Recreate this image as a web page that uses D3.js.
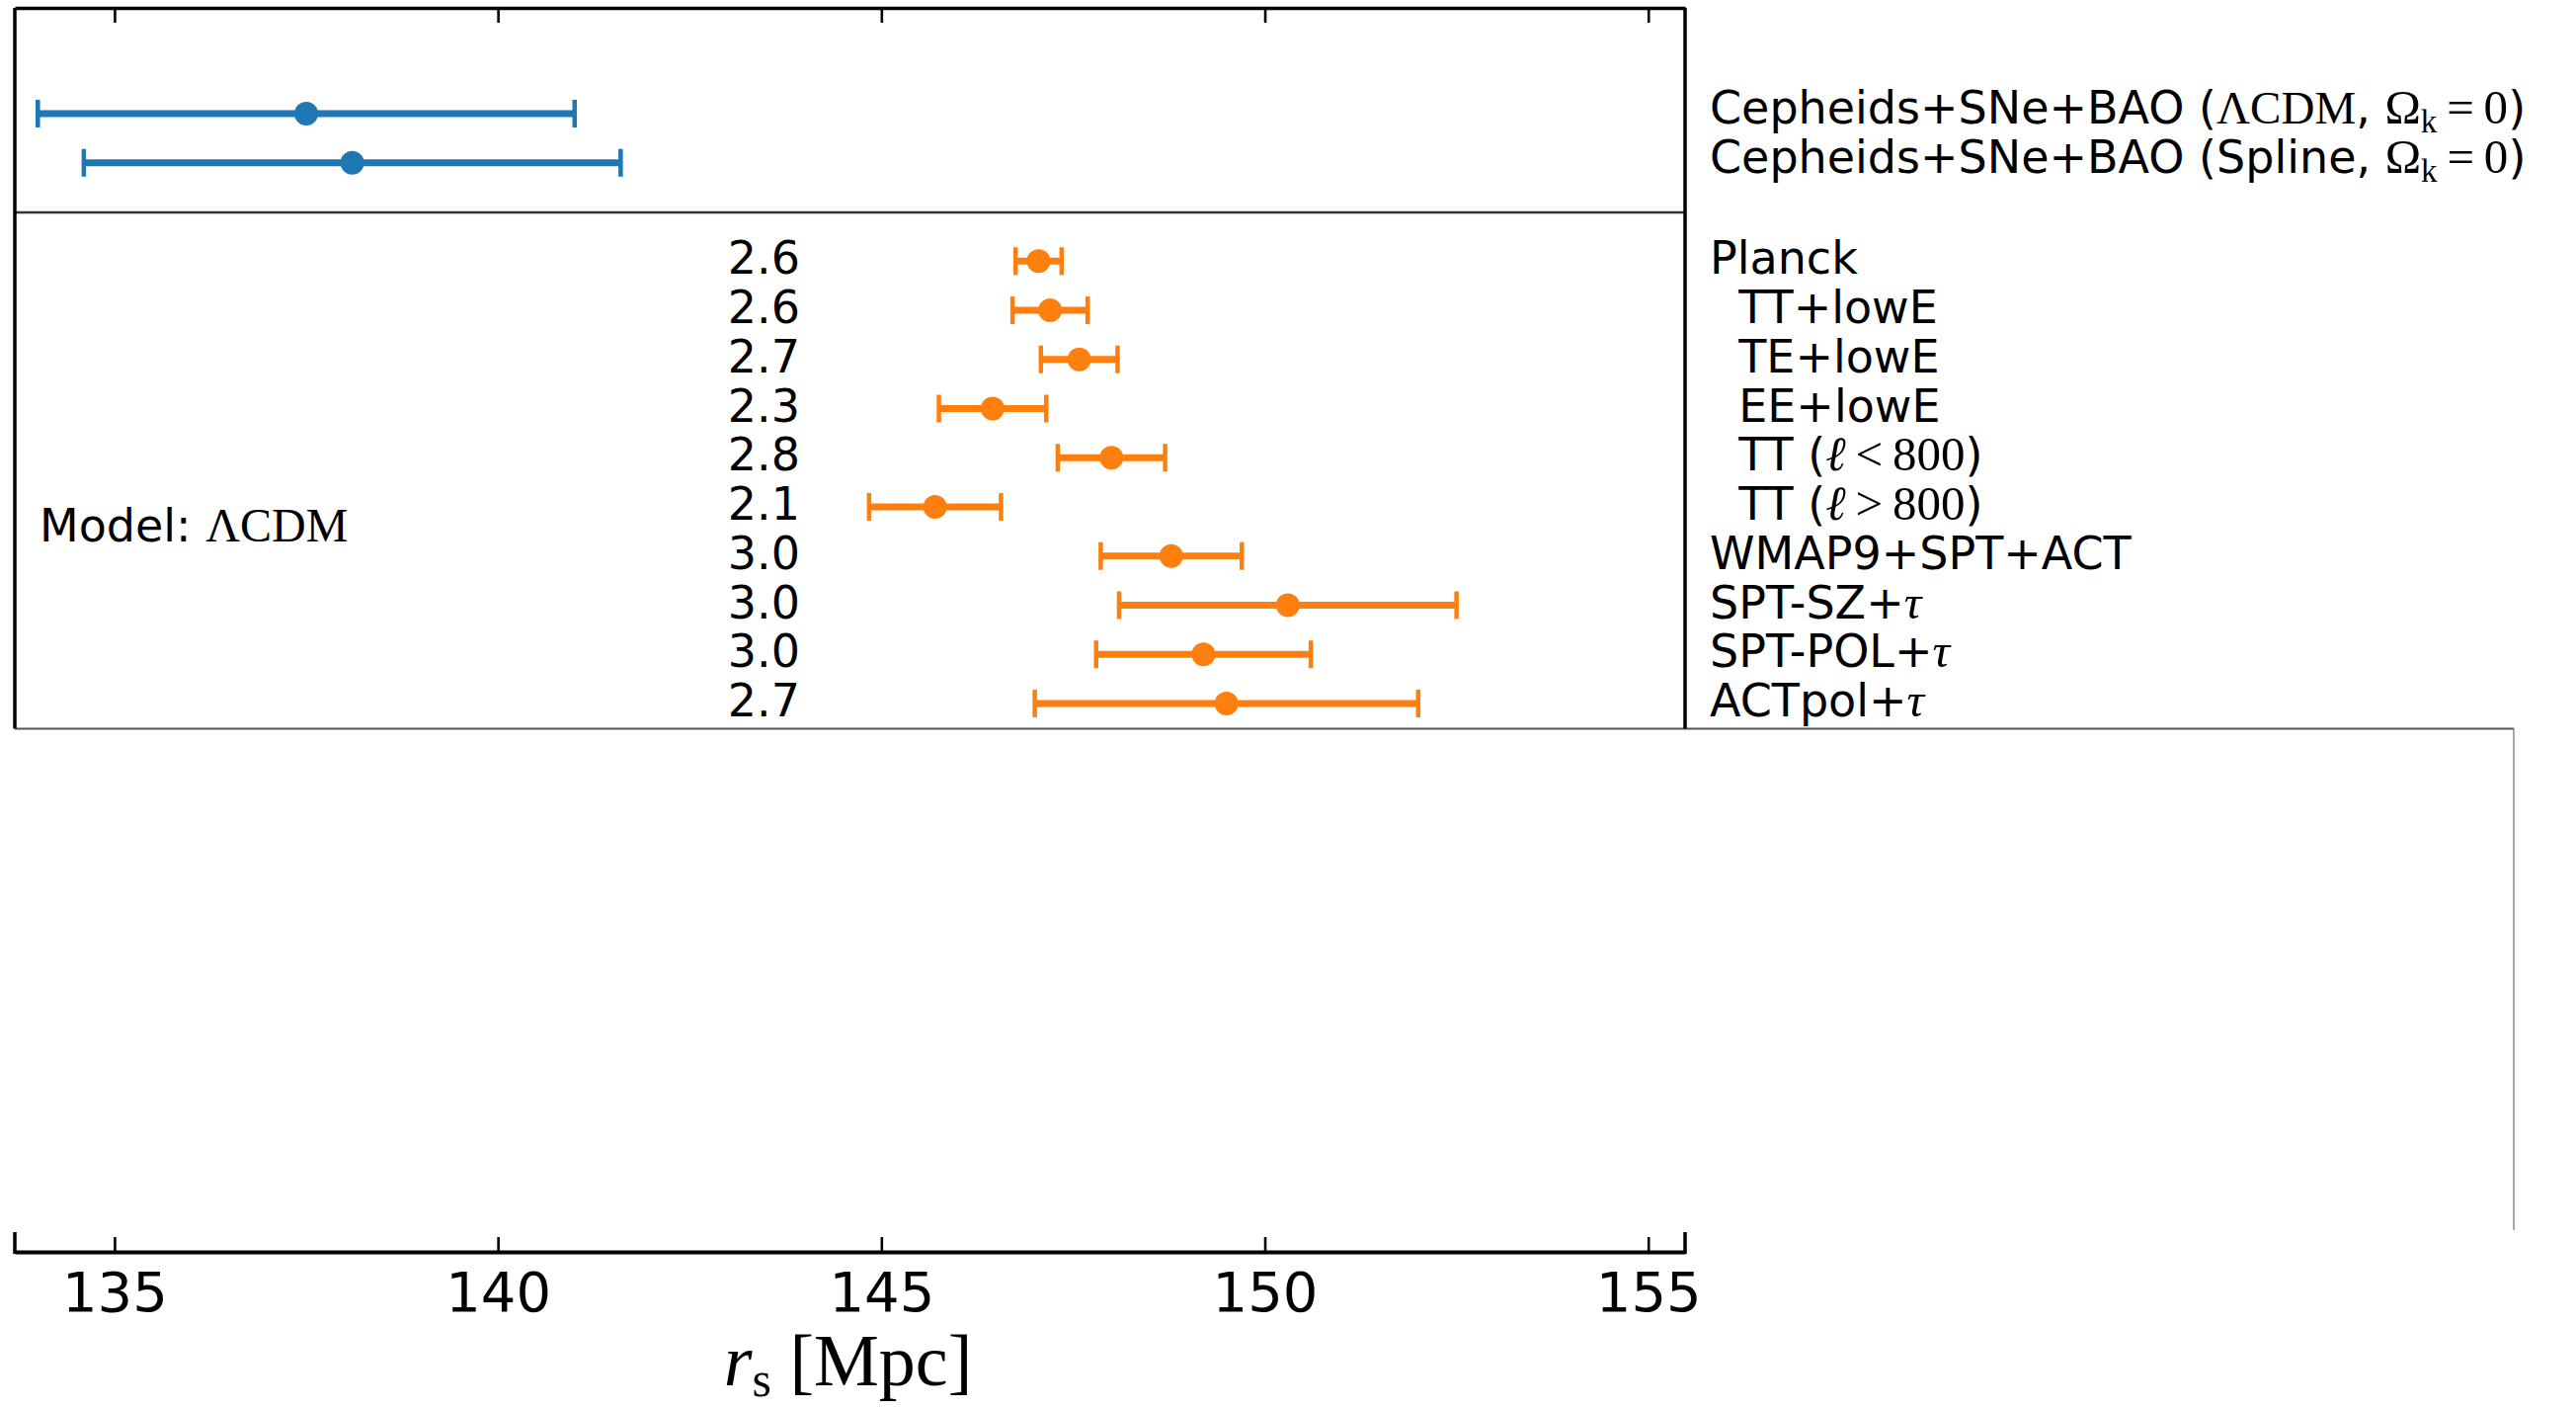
<!DOCTYPE html>
<html>
<head>
<meta charset="utf-8">
<script src="https://cdn.jsdelivr.net/npm/d3@7"></script>
<style>
  html, body { margin: 0; padding: 0; background: #fff; }
  svg { display: block; }
  text { font-family: "DejaVu Sans", sans-serif; }
  .serif { font-family: "Liberation Serif", "DejaVu Serif", serif; }
</style>
</head>
<body>
<svg id="chart" width="2608" height="1426"></svg>
<script>
// ---------------- data ----------------
const xTicks = [135, 140, 145, 150, 155];

// local distance-ladder measurements (blue)
const localIds = ["lcdm", "spline"];
const localModels = ["ΛCDM", "Spline"];
const localCenters = [137.5, 138.1];
const localErrors = [3.5, 3.5];

// CMB measurements (orange)
const cmbLabels = ["Planck", "TT+lowE", "TE+lowE", "EE+lowE", "TT<800", "TT>800",
                   "WMAP9+SPT+ACT", "SPT-SZ+τ", "SPT-POL+τ", "ACTpol+τ"];
const cmbIndent = [false, true, true, true, true, true, false, false, false, false];
const cmbCenters = [147.05, 147.2, 147.58, 146.45, 148.0, 145.7, 148.78, 150.3, 149.2, 149.5];
const cmbErrors  = [0.3, 0.49, 0.5, 0.7, 0.7, 0.86, 0.92, 2.2, 1.4, 2.5];
const cmbPercent = ["2.6", "2.6", "2.7", "2.3", "2.8", "2.1", "3.0", "3.0", "3.0", "2.7"];

// ---------------- layout ----------------
const svg = d3.select("#chart");
const left = 15, right = 1706;
const topY = 8, dividerY = 215, midBottom = 737.5, axisY = 1267;
const BLUE = "#1f77b4", ORANGE = "#ff7f0e";
const FS = 46, SFS = 47;

const x = d3.scaleLinear().domain([133.7, 155.48]).range([left, right]);
// row index scale: local rows 0,1 ; CMB rows 3..12
const y = d3.scaleLinear().domain([0, 12]).range([115, 712]);

// ---------------- frames ----------------
svg.append("line").attr("x1", left).attr("x2", 2545).attr("y1", midBottom).attr("y2", midBottom)
  .attr("stroke", "#555").attr("stroke-width", 2);
svg.append("line").attr("x1", 2545).attr("x2", 2545).attr("y1", midBottom).attr("y2", 1245)
  .attr("stroke", "#777").attr("stroke-width", 1.3);

svg.append("line").attr("x1", left).attr("x2", right).attr("y1", dividerY).attr("y2", dividerY)
  .attr("stroke", "#333").attr("stroke-width", 2.5);
svg.append("line").attr("x1", left).attr("x2", left).attr("y1", topY).attr("y2", midBottom)
  .attr("stroke", "#000").attr("stroke-width", 3.5);
svg.append("line").attr("x1", right).attr("x2", right).attr("y1", topY).attr("y2", midBottom)
  .attr("stroke", "#000").attr("stroke-width", 3.5);

// top axis (ticks inward, no labels)
const topAxis = svg.append("g").attr("transform", `translate(0,${topY})`)
  .call(d3.axisTop(x).tickValues(xTicks).tickSizeInner(-15).tickSizeOuter(0).tickFormat(""));
topAxis.select(".domain").attr("stroke-width", 3.5).attr("stroke", "#000");
topAxis.selectAll(".tick line").attr("stroke-width", 2.6).attr("stroke", "#000");

// bottom axis
const botAxis = svg.append("g").attr("transform", `translate(0,${axisY})`)
  .call(d3.axisBottom(x).tickValues(xTicks).tickSizeInner(-15).tickSizeOuter(0).tickPadding(20)
        .tickFormat(d3.format("d")));
botAxis.select(".domain").attr("stroke-width", 4).attr("stroke", "#000");
botAxis.selectAll(".tick line").attr("stroke-width", 2.6).attr("stroke", "#000");
botAxis.selectAll(".tick text").attr("font-size", 56).attr("font-family", "DejaVu Sans").attr("fill", "#000");
[left, right].forEach(px => {
  svg.append("line").attr("x1", px).attr("x2", px).attr("y1", 1247).attr("y2", axisY + 2)
    .attr("stroke", "#000").attr("stroke-width", 3.5);
});

// axis title  r_s [Mpc]
const xt = svg.append("text").attr("class", "serif").attr("x", (left + right) / 2 - 2).attr("y", 1402)
  .attr("text-anchor", "middle").attr("font-size", 74).attr("fill", "#000");
xt.append("tspan").attr("font-style", "italic").text("r");
xt.append("tspan").attr("font-size", 50).attr("dy", 11).text("s");
xt.append("tspan").attr("dy", -11).text(" [Mpc]");

// ---------------- error bars ----------------
function errorBars(centers, errors, rowIdx, color) {
  const g = svg.append("g");
  const data = centers.map((c, i) => ({ c, e: errors[i], r: rowIdx[i] }));
  g.selectAll("line.bar").data(data).join("line").attr("class", "bar")
    .attr("x1", d => x(d.c - d.e)).attr("x2", d => x(d.c + d.e))
    .attr("y1", d => y(d.r)).attr("y2", d => y(d.r))
    .attr("stroke", color).attr("stroke-width", 7);
  ["lo", "hi"].forEach(side => {
    g.selectAll("line.cap" + side).data(data).join("line").attr("class", "cap" + side)
      .attr("x1", d => x(side === "lo" ? d.c - d.e : d.c + d.e))
      .attr("x2", d => x(side === "lo" ? d.c - d.e : d.c + d.e))
      .attr("y1", d => y(d.r) - 14).attr("y2", d => y(d.r) + 14)
      .attr("stroke", color).attr("stroke-width", 4.5);
  });
  g.selectAll("circle").data(data).join("circle")
    .attr("cx", d => x(d.c)).attr("cy", d => y(d.r)).attr("r", 12).attr("fill", color);
}
errorBars(localCenters, localErrors, [0, 1], BLUE);
errorBars(cmbCenters, cmbErrors, cmbCenters.map((_, i) => i + 3), ORANGE);

// ---------------- labels ----------------
const labelX = 1731, dyTop = 10, dyText = 13;

localModels.forEach((m, i) => {
  const t = svg.append("text").attr("x", labelX).attr("y", y(i) + dyTop)
    .attr("font-size", FS).attr("fill", "#000").attr("id", "local-" + localIds[i]);
  t.append("tspan").text("Cepheids+SNe+BAO (");
  if (m === "ΛCDM") {
    t.append("tspan").attr("class", "serif").attr("font-size", SFS).text("ΛCDM");
  } else {
    t.append("tspan").text(m);
  }
  t.append("tspan").text(", ");
  t.append("tspan").attr("class", "serif").attr("font-size", SFS + 2).text("Ω");
  t.append("tspan").attr("class", "serif").attr("font-size", 33).attr("dy", 9).text("k");
  t.append("tspan").attr("class", "serif").attr("font-size", SFS + 2).attr("dy", -9).text("\u2009=\u20090");
  t.append("tspan").text(")");
});

cmbLabels.forEach((lab, i) => {
  const t = svg.append("text").attr("x", labelX).attr("y", y(i + 3) + dyText)
    .attr("font-size", FS).attr("fill", "#000");
  const prefix = cmbIndent[i] ? "\u00a0\u00a0" : "";
  if (lab === "TT<800" || lab === "TT>800") {
    t.append("tspan").text(prefix + "TT (");
    t.append("tspan").attr("class", "serif").attr("font-size", SFS + 2).attr("font-style", "italic").text("ℓ");
    t.append("tspan").attr("class", "serif").attr("font-size", SFS + 2).text("\u2009" + lab.slice(2, 3) + "\u2009800");
    t.append("tspan").text(")");
  } else if (lab.endsWith("τ")) {
    t.append("tspan").text(prefix + lab.slice(0, -1));
    t.append("tspan").attr("class", "serif").attr("font-size", SFS + 2).attr("font-style", "italic").text("τ");
  } else {
    t.append("tspan").text(prefix + lab);
  }
});

svg.append("g").selectAll("text").data(cmbPercent).join("text")
  .attr("x", 810).attr("y", (d, i) => y(i + 3) + dyText)
  .attr("text-anchor", "end").attr("font-size", FS).attr("fill", "#000").text(d => d);

const ml = svg.append("text").attr("x", 40).attr("y", 548).attr("font-size", FS).attr("fill", "#000");
ml.append("tspan").text("Model: ");
ml.append("tspan").attr("class", "serif").attr("font-size", SFS + 1).text("ΛCDM");
</script>
</body>
</html>
